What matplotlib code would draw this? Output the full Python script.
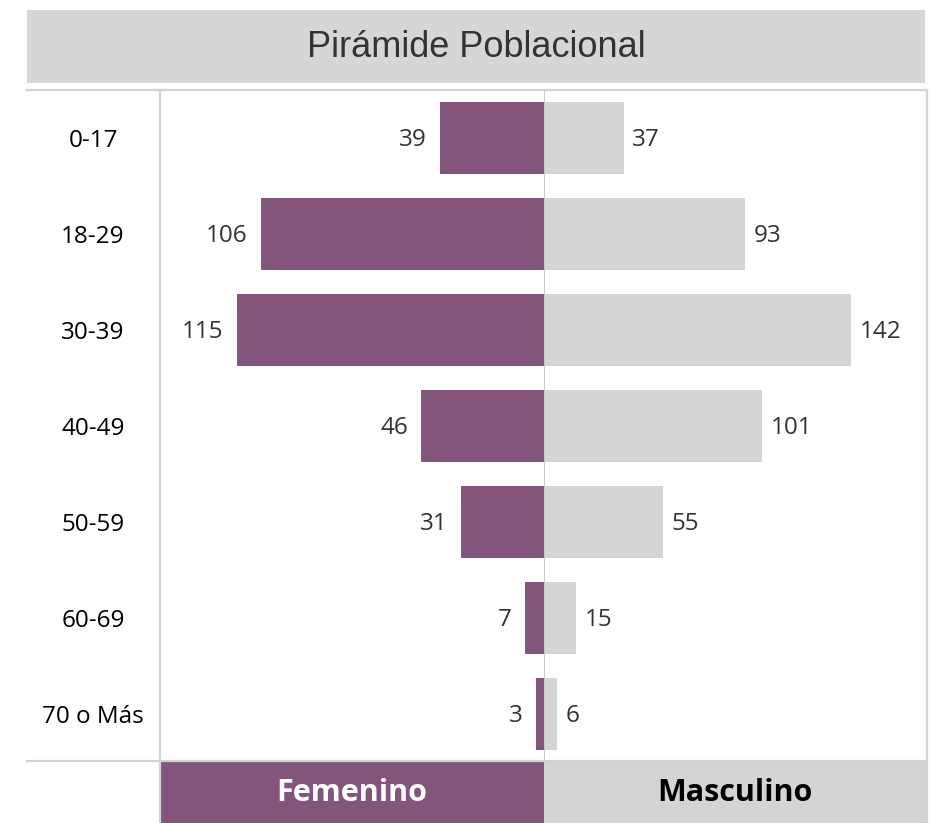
import matplotlib
matplotlib.use("Agg")
import matplotlib.pyplot as plt
from matplotlib.patches import Rectangle
from matplotlib import font_manager

age_groups = ["0-17", "18-29", "30-39", "40-49", "50-59", "60-69", "70 o Más"]
femenino = [39, 106, 115, 46, 31, 7, 3]
masculino = [37, 93, 142, 101, 55, 15, 6]
title = "Pirámide Poblacional"
legend_labels = ["Femenino", "Masculino"]

PURPLE = "#83557D"
GRAY = "#D4D4D4"
LINE = "#D3D3D3"

W, H = 938, 823
fig = plt.figure(figsize=(W / 100, H / 100), dpi=100)
fig.patch.set_facecolor("white")

names = {f.name for f in font_manager.fontManager.ttflist}
title_font = ["Liberation Sans Narrow", "Liberation Sans"] if "Liberation Sans Narrow" in names else ["Liberation Sans"]
title_size = 30 if "Liberation Sans Narrow" in names else 26
body_font = ["Open Sans", "DejaVu Sans"]


def px(x0, y0, x1, y1):
    return [x0 / W, 1 - y1 / H, (x1 - x0) / W, (y1 - y0) / H]


# background / frame axes in pixel coordinates
bg = fig.add_axes([0, 0, 1, 1])
bg.set_xlim(0, W)
bg.set_ylim(H, 0)
bg.axis("off")
bg.add_patch(Rectangle((27, 10), 898, 73, facecolor="#D6D6D6", edgecolor="none"))
bg.text(476, 47, title, ha="center", va="center", fontsize=title_size,
        family=title_font, color="#333333")
lw = 1.6
bg.plot([27, 927], [90, 90], color=LINE, lw=lw)
bg.plot([27, 927], [761, 761], color=LINE, lw=lw)
bg.plot([160, 160], [90, 823], color=LINE, lw=lw)
bg.plot([927, 927], [90, 823], color=LINE, lw=lw)
bg.add_patch(Rectangle((161, 762), 383, 61, facecolor=PURPLE, edgecolor="none"))
bg.add_patch(Rectangle((544, 762), 382, 61, facecolor=GRAY, edgecolor="none"))
bg.text(352, 793, legend_labels[0], ha="center", va="center", fontsize=22,
        fontweight="bold", family=body_font, color="white")
bg.text(735, 793, legend_labels[1], ha="center", va="center", fontsize=22,
        fontweight="bold", family=body_font, color="black")

ypos = list(range(len(age_groups)))
bar_h = 0.75

# female axis (left)
axf = fig.add_axes(px(160, 90, 544, 762))
axf.patch.set_alpha(0)
axf.barh(ypos, femenino, height=bar_h, color=PURPLE)
axf.set_xlim(143.8, 0)
axf.set_ylim(len(age_groups) - 0.5, -0.5)
axf.axis("off")
for y, v in zip(ypos, femenino):
    axf.annotate(str(v), (v, y), xytext=(-9.5, -1.5), textcoords="offset points",
                 ha="right", va="center", fontsize=17.5, family=body_font, color="#333333")

# male axis (right)
axm = fig.add_axes(px(544, 90, 925, 762))
axm.patch.set_alpha(0)
axm.barh(ypos, masculino, height=bar_h, color=GRAY)
axm.set_xlim(0, 176.2)
axm.set_ylim(len(age_groups) - 0.5, -0.5)
axm.axis("off")
for y, v in zip(ypos, masculino):
    axm.annotate(str(v), (v, y), xytext=(6, -1.5), textcoords="offset points",
                 ha="left", va="center", fontsize=17.5, family=body_font, color="#333333")
axm.axvline(0, color="#C8C8C8", lw=1.4)

# age labels
for y, lab in zip(ypos, age_groups):
    yc = 90 + (y + 0.5) * 96 + 3
    bg.text(93, yc, lab, ha="center", va="center", fontsize=17.5,
            family=body_font, color="black")

fig.savefig("out.png", dpi=100)
